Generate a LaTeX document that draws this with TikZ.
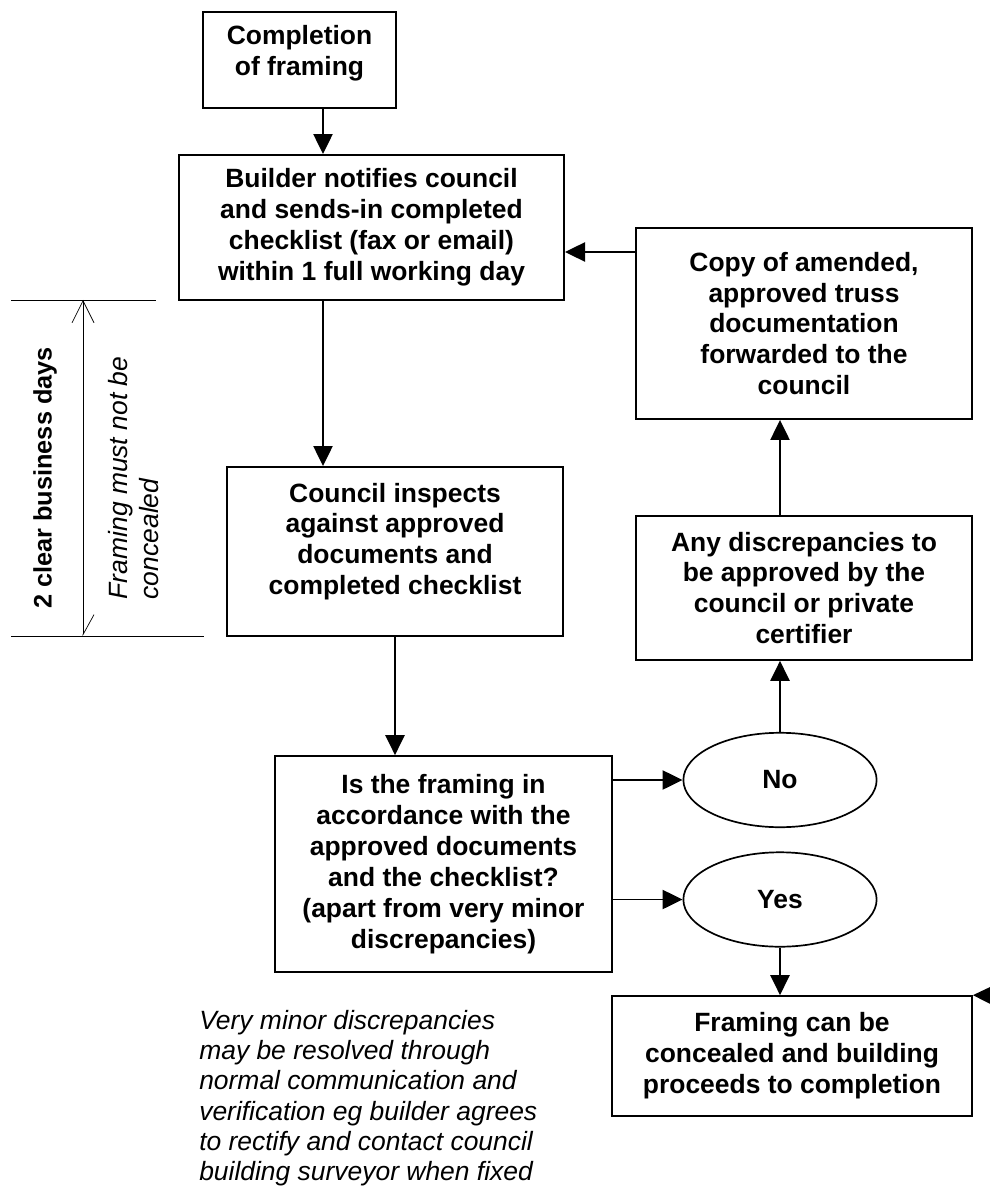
\documentclass[tikz,border=0pt]{standalone}
\usepackage{fontspec}
\setmainfont{Liberation Sans}
\usetikzlibrary{arrows.meta,positioning,calc,shapes.geometric}

\begin{document}
\begin{tikzpicture}[x=0.025cm,y=-0.025cm,
    box/.style={draw,line width=1.2pt,align=center,inner sep=0pt,
      font=\fontsize{18.8}{22}\selectfont\bfseries},
    oval/.style={draw,ellipse,line width=1.2pt,inner sep=0pt,
      minimum width=4.83cm,minimum height=2.36cm,
      font=\fontsize{18.8}{22}\selectfont\bfseries},
    arr/.style={-{Triangle[length=0.5cm,width=0.48cm]},line width=1.2pt}]
  \useasboundingbox (0,0) rectangle (989,1187);

  % ====== Main column ======
  \node[box,minimum width=4.83cm,minimum height=2.4cm] (compl) at (299.5,60)
    {Completion\\of framing\\[-9pt]\mbox{}};
  \node[box,minimum width=9.63cm,minimum height=3.63cm] (builder) at (371.5,227.5)
    {Builder notifies council\\and sends-in completed\\checklist (fax or email)\\within 1 full working day};
  \node[box,minimum width=8.4cm,minimum height=4.23cm] (council) at (395,551.5)
    {Council inspects\\against approved\\documents and\\completed checklist\\[-4pt]\mbox{}};
  \node[box,minimum width=8.43cm,minimum height=5.4cm] (is) at (443.5,864)
    {Is the framing in\\accordance with the\\approved documents\\and the checklist?\\(apart from very minor\\discrepancies)};

  % ====== Decision and right column ======
  \node[oval] (no) at (780,780) {No};
  \node[oval] (yes) at (780,899.5) {Yes};
  \node[box,minimum width=8.4cm,minimum height=3.6cm] (any) at (804,588)
    {Any discrepancies to\\be approved by the\\council or private\\certifier};
  \node[box,minimum width=8.4cm,minimum height=4.78cm] (copy) at (804,323.5)
    {Copy of amended,\\approved truss\\documentation\\forwarded to the\\council};
  \node[box,minimum width=9cm,minimum height=3cm] (final) at (792,1056)
    {Framing can be\\concealed and building\\proceeds to completion};

  % ====== Connectors ======
  \coordinate (spine) at (323,0);
  \coordinate (back) at (0,252);
  \coordinate (inlet) at (1030,996);
  \draw[arr] (compl.south -| spine) -- (builder.north -| spine);
  \draw[arr] (builder.south -| spine) -- (council.north -| spine);
  \draw[arr] (council.south) -- (is.north -| council.south);
  \draw[arr] (is.east |- no.west) -- (no.west);
  \draw[arr] (is.east |- yes.west) -- (yes.west);
  \draw[arr] (no.north) -- (any.south -| no.north);
  \draw[arr] (any.north -| no.north) -- (copy.south -| no.north);
  \draw[arr] (copy.west |- back) -- (builder.east |- back);
  \draw[arr] (yes.south) -- (final.north -| yes.south);
  \draw[arr] (inlet) -- (final.north east);

  % ====== Time span on the left ======
  \coordinate (dimtop) at (83,300);
  \coordinate (dimbot) at (83,636);
  \draw[line width=0.7pt] (11,300) -- (156,300);
  \draw[line width=0.7pt] (11,636) -- (204,636);
  \draw[line width=0.5pt,{Straight Barb[length=0.55cm,width=0.55cm]}-{Straight Barb[harpoon,length=0.5cm,width=0.55cm]}]
    (dimtop) -- (dimbot);
  \node[rotate=90,font=\fontsize{18}{22}\selectfont\bfseries] (days) at (45,478)
    {2 clear business days};
  \node[rotate=90,align=left,font=\fontsize{18.8}{22}\selectfont\itshape] (conceal) at (134,478)
    {Framing must not be\\concealed};

  % ====== Note ======
  \node[anchor=north west,align=left,inner sep=0pt,
    font=\fontsize{18.8}{21.5}\selectfont\itshape] (note) at (199,1010)
    {Very minor discrepancies\\may be resolved through\\normal communication and\\verification eg builder agrees\\to rectify and contact council\\building surveyor when fixed};
\end{tikzpicture}
\end{document}
